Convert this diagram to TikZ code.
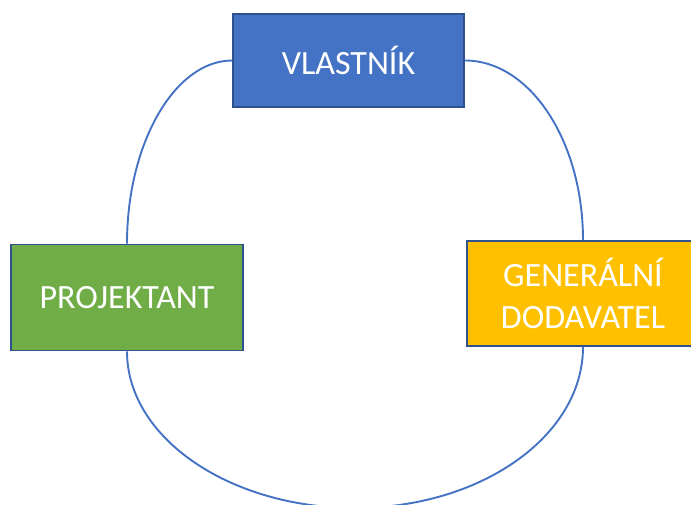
\documentclass[tikz,border=0pt]{standalone}
\usepackage{fontspec}
\setmainfont{Carlito}
\definecolor{vblue}{HTML}{4472C4}
\definecolor{vedge}{HTML}{2F528F}
\definecolor{pgreen}{HTML}{70AD47}
\definecolor{gyellow}{HTML}{FFC000}
\begin{document}
\begin{tikzpicture}[x=1pt,y=-1pt,
  party/.style={draw=vedge, line width=1.8pt, text=white, align=center,
    font=\fontsize{34}{42}\selectfont, inner sep=0pt},
  link/.style={draw=vblue, line width=1.9pt}]
  \useasboundingbox (0,0) rectangle (691,504);
  % the three parties
  \node[party, fill=vblue, minimum width=231pt, minimum height=93pt] (v) at (348.5,60.5) {VLASTNÍK};
  \node[party, fill=pgreen, minimum width=232pt, minimum height=106pt] (p) at (127,297.5) {PROJEKTANT};
  \node[party, fill=gyellow, minimum width=232pt, minimum height=105pt] (g) at (583,293.5) {GENERÁLNÍ\\DODAVATEL};
  % links between them
  \coordinate (b) at (355,508);
  \draw[link] (v.west) .. controls (175,60.5) and (127,143) .. (p.north);
  \draw[link] (v.east) .. controls (530,60.5) and (583,141) .. (g.north);
  \draw[link] (p.south) .. controls (127,438) and (230,508) .. (b)
                        .. controls (481,508) and (583,436) .. (g.south);
\end{tikzpicture}
\end{document}
